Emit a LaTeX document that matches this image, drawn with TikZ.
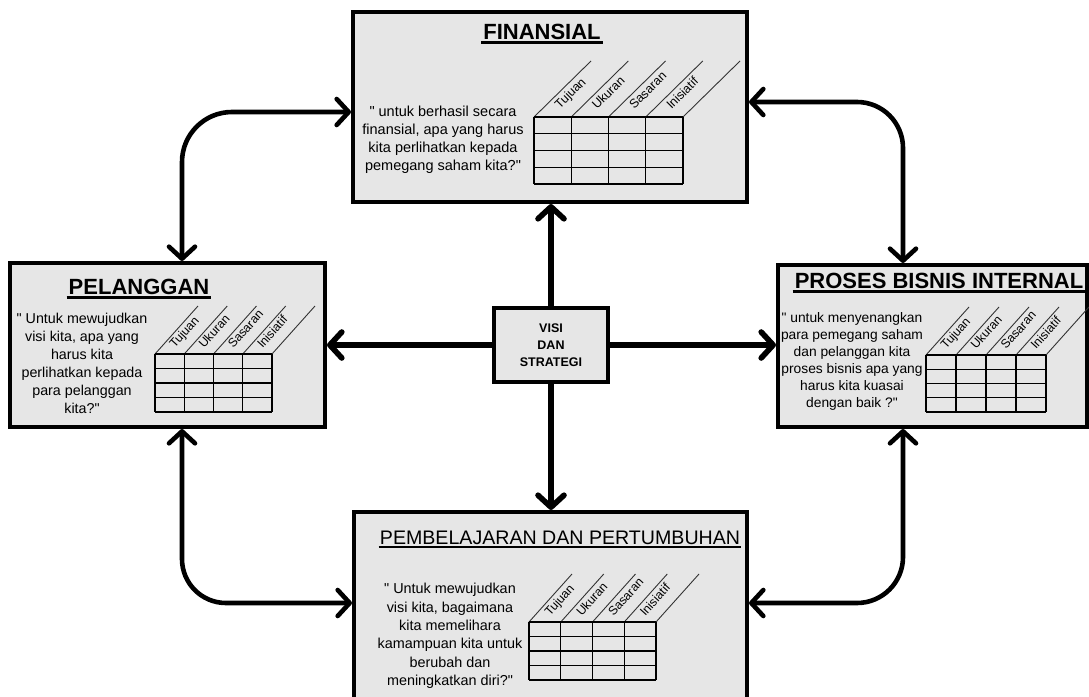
\documentclass[tikz,border=0pt]{standalone}
\usepackage{fontspec}
\setmainfont{Liberation Sans}[Ligatures=TeXOff]
\usetikzlibrary{arrows.meta,calc}
\definecolor{boxgray}{HTML}{E6E6E6}
\tikzset{
  bscbox/.style={draw=black, line width=4pt, fill=boxgray, inner sep=0pt},
  conn/.style={line width=4.6pt, line cap=round, line join=round},
  thickconn/.style={conn, line width=5.6pt},
  tipped/.style={-{Straight Barb[length=12pt,width=26pt,round]}},
  bitipped/.style={{Straight Barb[length=12pt,width=26pt,round]}-{Straight Barb[length=12pt,width=26pt,round]}},
  title/.style={font=\bfseries\fontsize{22}{26}\selectfont, inner sep=0pt, anchor=base},
  uline/.style={line width=2.6pt},
  question/.style={align=center, inner sep=0pt},
  tabline/.style={line width=1.4pt},
  diagline/.style={line width=0.9pt, draw=black!80},
  lab/.style={inner sep=0pt, anchor=base west, text=black}
}
% #1 x0, #2 y0, #3 column width, #4 row height, #5 diag dx, #6 diag dy,
% #7 label font size, #8 label offset, #9 label angle
\newcommand\bsctable[9]{%
  \foreach \i in {0,...,4} {%
    \draw[diagline] ({#1+\i*#3},{#2}) -- ({#1+\i*#3+#5},{#2-#6});
    \draw[tabline] ({#1+\i*#3},{#2}) -- ({#1+\i*#3},{#2+4*#4});
  }
  \foreach \j in {0,...,4} {%
    \draw[tabline] ({#1},{#2+\j*#4}) -- ({#1+4*#3},{#2+\j*#4});
  }
  \foreach \lab [count=\k from 0] in {Tujuan,Ukuran,Sasaran,Inisiatif} {%
    \node[lab, rotate=#9, font=\fontsize{#7}{#7}\selectfont] at ({#1+(\k+0.5)*#3+#8},{#2-#8}) {\lab};
  }
}
\begin{document}
\begin{tikzpicture}[x=1pt,y=-1pt]
\useasboundingbox (0,0) rectangle (1089,696);
\clip (0,0) rectangle (1089,696);
\fill[white] (0,0) rectangle (1089,696);

% boxes
\node[bscbox, minimum width=394pt, minimum height=190pt] (fin) at (550,107) {};
\node[bscbox, minimum width=315pt, minimum height=164pt] (pel) at (167.5,345) {};
\node[bscbox, minimum width=309pt, minimum height=162pt] (pro) at (932.5,346) {};
\node[bscbox, minimum width=393pt, minimum height=188pt] (bot) at (550.5,606) {};
\node[bscbox, minimum width=114pt, minimum height=74pt, align=center,
      font=\bfseries\fontsize{12.5}{17}\selectfont] (visi) at (551,345) {VISI\\DAN\\STRATEGI};

% titles
\node[title] (tfin) at (542,39) {FINANSIAL};
\draw[uline] ([yshift=-3.5pt,xshift=-2pt]tfin.base west) -- ([yshift=-3.5pt,xshift=2pt]tfin.base east);
\node[title] (tpel) at (139,294) {PELANGGAN};
\draw[uline] ([yshift=-3.5pt,xshift=-2pt]tpel.base west) -- ([yshift=-3.5pt,xshift=2pt]tpel.base east);
\node[title] (tpro) at (939,288) {PROSES BISNIS INTERNAL};
\draw[uline] ([yshift=-3.5pt,xshift=-2pt]tpro.base west) -- ([yshift=-3.5pt,xshift=2pt]tpro.base east);
\node[title, font=\fontsize{19.6}{24}\selectfont] (tbot) at (560,544) {PEMBELAJARAN DAN PERTUMBUHAN};
\draw[line width=1.6pt] ([yshift=-3pt,xshift=-1pt]tbot.base west) -- ([yshift=-3pt,xshift=1pt]tbot.base east);

% questions
\node[question, font=\fontsize{14.5}{18}\selectfont] (qfin) at (443,140)
  {" untuk berhasil secara\\finansial, apa yang harus\\kita perlihatkan kepada\\pemegang saham kita?"};
\node[question, font=\fontsize{14.3}{18}\selectfont] (qpel) at (82,363)
  {" Untuk mewujudkan\\visi kita, apa yang\\harus kita\\perlihatkan kepada\\para pelanggan\\kita?"};
\node[question, font=\fontsize{13.8}{17}\selectfont] (qpro) at (852,361)
  {" untuk menyenangkan\\para pemegang saham\\dan pelanggan kita\\proses bisnis apa yang\\harus kita kuasai\\dengan baik ?"};
\node[question, font=\fontsize{14.4}{18.4}\selectfont] (qbot) at (450,636)
  {" Untuk mewujudkan\\visi kita, bagaimana\\kita memelihara\\kamampuan kita untuk\\berubah dan\\meningkatkan diri?"};

% tables
\bsctable{534}{117}{37.25}{16.75}{57}{56}{12.5}{7}{45}
\bsctable{155}{354}{29.25}{14.5}{43}{48}{12.3}{5}{48}
\bsctable{926}{355}{30}{14.25}{43}{48}{12.3}{5}{48}
\bsctable{529}{622}{31.75}{14.5}{43}{48}{12.3}{5}{48}

% centre connectors
\draw[thickconn, tipped] (visi.north) -- (visi.north |- fin.south);
\draw[thickconn, tipped] (visi.south) -- (visi.south |- bot.north);
\draw[thickconn, tipped] (visi.west) -- (visi.west -| pel.east);
\draw[thickconn, tipped] (visi.east) -- (visi.east -| pro.west);

% loop connectors
\draw[conn, bitipped, rounded corners=50pt] ([yshift=-5pt]fin.west) -| ([xshift=14.5pt]pel.north);
\draw[conn, bitipped, rounded corners=46pt] ([yshift=5pt]fin.east) -| ([xshift=-29.5pt]pro.north);
\draw[conn, bitipped, rounded corners=44pt] ([xshift=14.5pt]pel.south) |- ([yshift=3pt]bot.west);
\draw[conn, bitipped, rounded corners=46pt] ([xshift=-29.5pt]pro.south) |- ([yshift=3pt]bot.east);
\end{tikzpicture}
\end{document}
